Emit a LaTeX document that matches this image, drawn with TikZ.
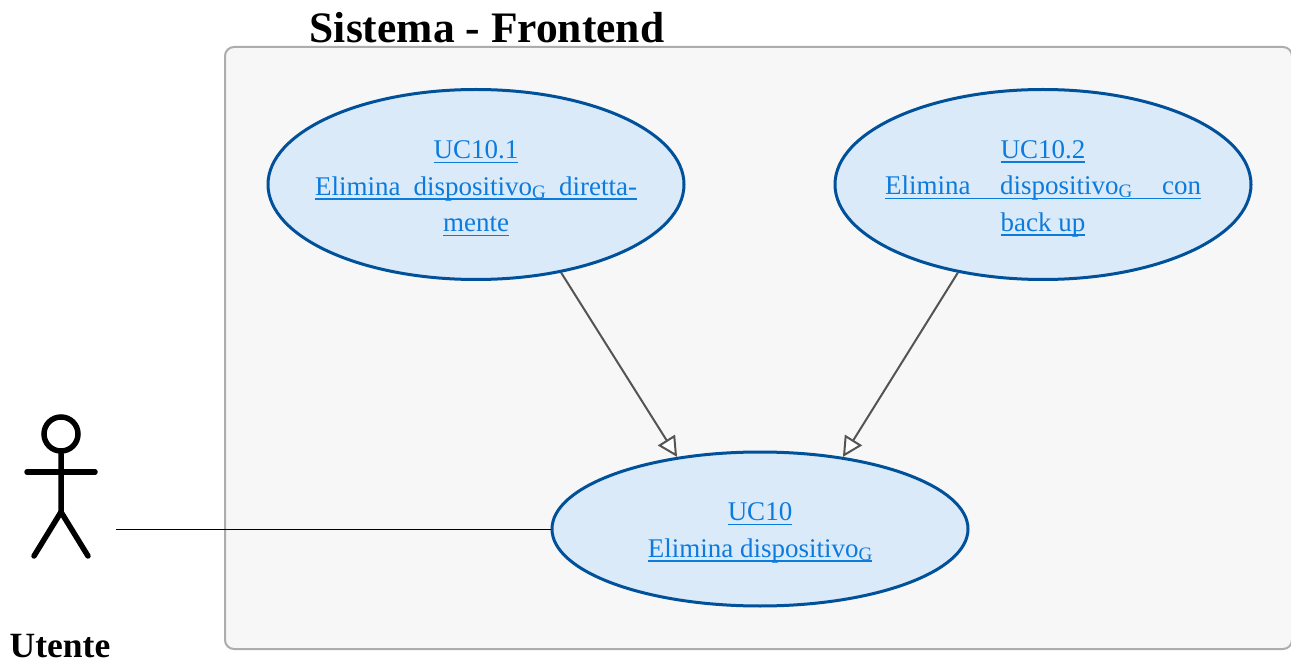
\documentclass[tikz,border=0pt]{standalone}
\usepackage{fontspec}
\setmainfont{Liberation Serif}
\usetikzlibrary{arrows.meta,shapes.geometric}

\newsavebox{\ucbox}
\newcommand{\ucl}[1]{\sbox{\ucbox}{#1}\hbox to\wd\ucbox{\rlap{\usebox{\ucbox}}\rlap{\raisebox{-4.5pt}{\rule{\wd\ucbox}{1.4pt}}}\hss}}
\newcommand{\glo}{\raisebox{-3pt}{\fontsize{19}{19}\selectfont G}}
\newcommand{\uctop}{\rule{0pt}{26pt}}
\definecolor{ucfill}{HTML}{DAEAF9}
\definecolor{ucdraw}{HTML}{00519A}
\definecolor{uctext}{HTML}{0B7BDE}

\begin{document}
\begin{tikzpicture}[
            x=1pt,y=-1pt,
            usecase/.style={draw=ucdraw,fill=ucfill,text=uctext,ellipse,line width=3pt,minimum width=416pt,align=center,inner xsep=-20pt,inner ysep=0pt,font=\fontsize{27}{36.5}\selectfont},
            system/.style={draw=black!32,fill=black!3,line width=2pt,rounded corners=9pt},
            title/.style={font=\fontsize{43.5}{43.5}\selectfont\bfseries,inner sep=0pt},
            actor/.style={line width=5.5pt,line cap=round},
            gen/.style={draw=black!67,line width=2pt,-{Triangle[open,fill=white,length=20pt,width=20pt]}}
          ]
          \useasboundingbox (0,0) rectangle (1291,660);
          \fill[white] (0,0) rectangle (1291,660);
          \draw[system] (225,47) rectangle (1292,649);
          \node[title] (sys) at (487,28) {Sistema - Frontend};

          %use cases
          \node[usecase,minimum height=190pt] (uc101) at (476,184.5) {\uctop\ucl{UC10.1}\\\ucl{\makebox[322pt][s]{Elimina dispositivo\glo{} diretta-}}\\\ucl{mente}};
          \node[usecase,minimum height=190pt] (uc102) at (1043,184.5) {\uctop\ucl{UC10.2}\\\ucl{\makebox[316pt][s]{Elimina dispositivo\glo{} con}}\\\ucl{back up}};
          \node[usecase,minimum height=154pt] (uc10) at (760,529) {\uctop\ucl{UC10}\\\ucl{Elimina dispositivo\glo}};

          %actor
          \node[draw,circle,line width=5.5pt,minimum size=34pt,inner sep=0pt] (head) at (61,434) {};
          \draw[actor] (head.south) -- (61,512) -- (34,556);
          \draw[actor] (61,512) -- (88,556);
          \draw[actor] (27,472) -- (95,472);
          \node[title,font=\fontsize{35.5}{35.5}\selectfont\bfseries] (utente) at (60,646.5) {Utente};
          \coordinate (actorend) at (116,529);

          %links
          \draw[line width=1pt] (actorend) -- (uc10.west);
          \draw[gen] (uc101.-46) -- (uc10.139.8);
          \draw[gen] (uc102.226.7) -- (uc10.41.5);
      \end{tikzpicture}
\end{document}
